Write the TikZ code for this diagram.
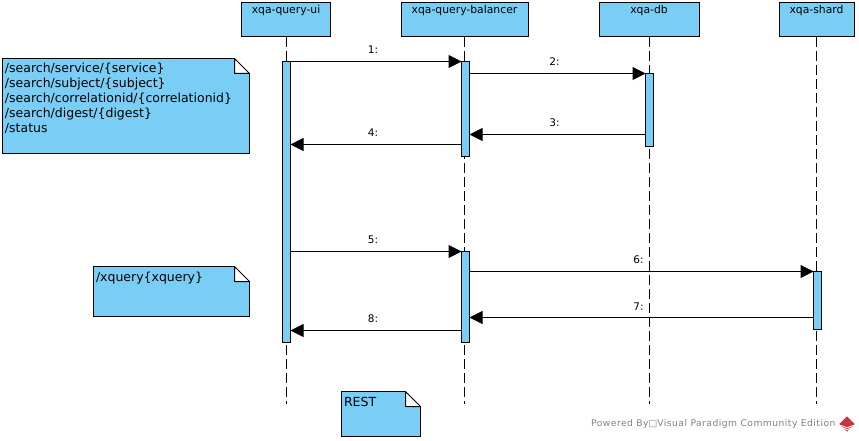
\documentclass[tikz,border=0pt]{standalone}
\usepackage{fontspec}
\setmainfont{DejaVu Sans}
\newfontfamily\markfont[LetterSpace=5]{DejaVu Sans}
\usetikzlibrary{arrows.meta,calc}
\definecolor{vpblue}{HTML}{7ACEF5}
\definecolor{vpgrey}{HTML}{808080}
\definecolor{vpred}{HTML}{CC3340}
\tikzset{
  outline/.style={draw, line width=1pt, outer sep=0pt},
  lifebox/.style={outline, fill=vpblue, anchor=north, inner sep=2pt, minimum height=34.5,
    text height=9, text depth=21.5, font=\fontsize{10.8}{12}\selectfont},
  activation/.style={outline, fill=vpblue, minimum width=8, inner sep=0pt, anchor=north},
  lifeline/.style={line width=1pt, dash pattern=on 10pt off 4pt},
  msg/.style={line width=1pt, -{Triangle[length=13pt,width=13pt,black]}},
  msglabel/.style={midway, above=7pt, xshift=-3, inner sep=0pt, font=\fontsize{10.5}{12}\selectfont},
  notebox/.style={outline, fill=vpblue, anchor=north west, inner xsep=2.5pt, inner ysep=0pt,
    align=left, text height=14.5, font=\fontsize{12.5}{15}\selectfont}
}
\begin{document}
\begin{tikzpicture}[x=1pt, y=-1pt]
\useasboundingbox (0,0) rectangle (859,441);

% heads
\node[lifebox, minimum width=89] (ui) at (286,2.5) {xqa-query-ui};
\node[lifebox, minimum width=127] (balancer) at (464.5,2.5) {xqa-query-balancer};
\node[lifebox, minimum width=100] (db) at (649,2.5) {xqa-db};
\node[lifebox, minimum width=75] (shard) at (816.5,2.5) {xqa-shard};

% lifelines
\coordinate (uiend) at (ui.south |- 0,404);
\coordinate (balancerend) at (balancer.south |- 0,404);
\coordinate (dbend) at (db.south |- 0,404);
\coordinate (shardend) at (shard.south |- 0,404);
\foreach \n in {ui,balancer,db,shard}
  \draw[lifeline] (\n.south) -- (\n end);

% activations
\node[activation, minimum height=281] (uiact) at (286.5,61.5) {};
\node[activation, minimum height=94.5] (balancerfirst) at (465.5,61.5) {};
\node[activation, minimum height=73] (dbact) at (649.5,73.5) {};
\node[activation, minimum height=91] (balancersecond) at (465.5,251.5) {};
\node[activation, minimum height=58] (shardact) at (817.5,271.5) {};

% messages
\coordinate (mthree) at (0,134.5);
\coordinate (mfour) at (0,144.5);
\coordinate (mseven) at (0,317.5);
\coordinate (meight) at (0,330.5);
\draw[msg] (uiact.north east) -- (balancerfirst.north west) node[msglabel] {1:};
\draw[msg] (balancerfirst.east |- dbact.north) -- (dbact.north west) node[msglabel] {2:};
\draw[msg] (dbact.west |- mthree) -- (balancerfirst.east |- mthree) node[msglabel] {3:};
\draw[msg] (balancerfirst.west |- mfour) -- (uiact.east |- mfour) node[msglabel] {4:};
\draw[msg] (uiact.east |- balancersecond.north) -- (balancersecond.north west) node[msglabel] {5:};
\draw[msg] (balancersecond.east |- shardact.north) -- (shardact.north west) node[msglabel] {6:};
\draw[msg] (shardact.west |- mseven) -- (balancersecond.east |- mseven) node[msglabel] {7:};
\draw[msg] (balancersecond.west |- meight) -- (uiact.east |- meight) node[msglabel] {8:};

% notes
\node[notebox, text width=242, text depth=80.5] (noterest) at (2.5,58.5)
  {/search/service/\{service\}\\/search/subject/\{subject\}\\/search/correlationid/\{correlationid\}\\/search/digest/\{digest\}\\/status};
\node[notebox, text width=151, text depth=35.5] (notexquery) at (93.5,266.5) {/xquery\{xquery\}};
\node[notebox, text width=74, text depth=30.5] (notelabel) at (341.5,391.5) {REST};
\foreach \n in {noterest,notexquery,notelabel} {
  \fill[white] ($(\n.north east)+(-15,-1)$) rectangle ($(\n.north east)+(1,15)$);
  \draw[line width=1pt, line join=round] ($(\n.north east)+(-15,0)$) -- ($(\n.north east)+(-15,15)$)
    -- ($(\n.north east)+(0,15)$) -- cycle;
}

% watermark
\node[anchor=west, inner sep=0pt, text=vpgrey, font=\markfont\fontsize{9.2}{11}\selectfont] (powered) at (591,424)
  {Powered By{\fontspec{DejaVu Sans}□}Visual Paradigm Community Edition};
\node[inner sep=0pt, minimum size=15] (logo) at (847,424) {};
\fill[vpred] (logo.north) -- (logo.east) -- (logo.south) -- (logo.west) -- cycle;
\draw[white, line width=.8pt] ($(logo.west)+(1.5,1.5)$) -- ($(logo.south)+(0,-4)$) -- ($(logo.east)+(-1.5,1.5)$);
\draw[white, line width=.8pt] ($(logo.west)+(3,3.5)$) -- ($(logo.south)+(0,-2)$) -- ($(logo.east)+(-3,3.5)$);
\end{tikzpicture}
\end{document}
